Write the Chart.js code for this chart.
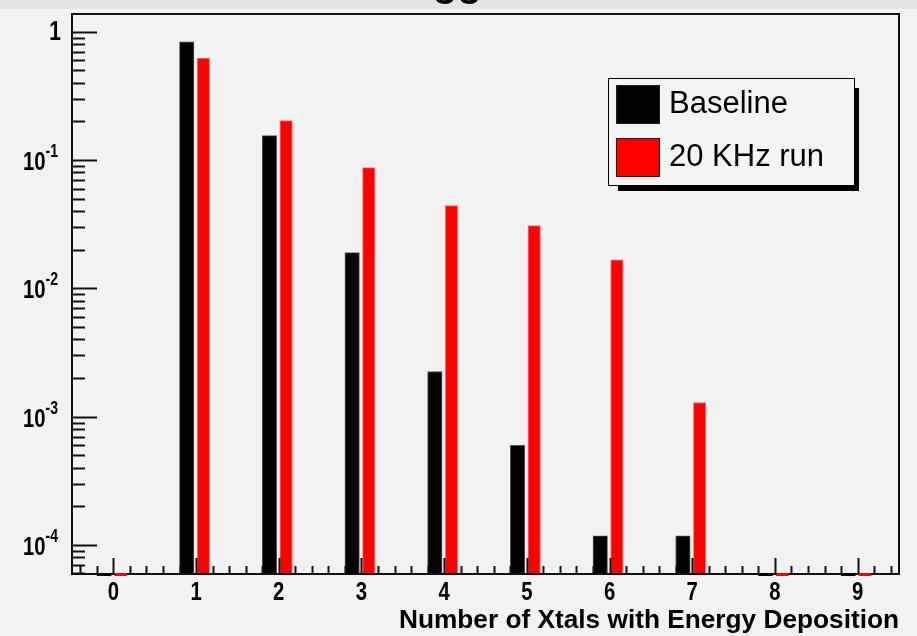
<!DOCTYPE html>
<html><head><meta charset="utf-8">
<script src="https://cdn.jsdelivr.net/npm/chart.js@4/dist/chart.umd.min.js"></script>
<style>html,body{margin:0;padding:0;background:#f2f2f2;overflow:hidden}#wrap{width:917px;height:636px;position:relative}</style>
</head><body><div id="wrap"><canvas id="c"></canvas></div>
<script>
// ---- data ----
const categories = [0, 1, 2, 3, 4, 5, 6, 7, 8, 9];
const baselineValues = [0, 0.836, 0.155, 0.0190, 0.00225, 0.000597, 0.000118, 0.000118, 0, 0];
const run20kValues = [0, 0.624, 0.203, 0.0873, 0.0441, 0.0308, 0.0167, 0.00129, 0, 0];
const seriesNames = ['Baseline', '20 KHz run'];
const xTickLabels = ['0', '1', '2', '3', '4', '5', '6', '7', '8', '9'];
const yDecadeExponents = [0, -1, -2, -3, -4];
const xAxisTitle = 'Number of Xtals with Energy Deposition';
const chartTitle = 'Trigger';

// ---- layout / style (not data) ----
const FONT = '"Liberation Sans", Arial, Helvetica, sans-serif';
const AX = { xmin: -0.5, xmax: 9.5, ymin: 5.94e-5, ymax: 1.375 };
const BLACK_OFF = -0.1125, RED_OFF = 0.089;
const LABEL_SX = 0.8;

function toXY(vals, off) {
  return categories.map((c, i) => ({ x: c + off, y: vals[i] }));
}

function squeezedText(ctx, txt, x, y, sx) {
  ctx.save();
  ctx.translate(x, y);
  ctx.scale(sx, 1);
  ctx.fillText(txt, 0, 0);
  ctx.restore();
}

const rootPlugin = {
  id: 'rootStyle',
  beforeDraw(chart) {
    const ctx = chart.ctx;
    ctx.save();
    ctx.fillStyle = '#f2f2f2';
    ctx.fillRect(0, 0, chart.width, chart.height);
    ctx.fillStyle = '#e4e4e4';
    ctx.fillRect(0, 0, chart.width, 9);
    ctx.fillStyle = '#000';
    ctx.font = 'bold 40px ' + FONT;
    ctx.textAlign = 'center';
    ctx.textBaseline = 'alphabetic';
    ctx.fillText(chartTitle, 452, -4);
    ctx.restore();
  },
  afterDatasetsDraw(chart) {
    const ctx = chart.ctx;
    const xs = chart.scales.x, ys = chart.scales.y;
    const a = chart.chartArea;
    ctx.save();
    // frame
    ctx.strokeStyle = '#111';
    ctx.lineWidth = 2;
    ctx.strokeRect(a.left, a.top, a.right - a.left, a.bottom - a.top);
    // zero-valued bins: ROOT draws them as a flat mark on the axis
    chart.data.datasets.forEach((ds, di) => {
      const meta = chart.getDatasetMeta(di);
      ds.data.forEach((d, i) => {
        if (d.y === 0) {
          const el = meta.data[i];
          ctx.fillStyle = ds.backgroundColor;
          ctx.fillRect(el.x - el.width / 2, a.bottom - 1, el.width, 3);
        }
      });
    });
    // x ticks
    ctx.strokeStyle = '#111';
    ctx.lineWidth = 2;
    ctx.beginPath();
    for (let k = -4; k <= 94; k += 2) {
      const val = k * 0.1;
      const px = Math.round(xs.getPixelForValue(val)) + 0.5;
      if (px <= a.left + 1 || px >= a.right - 1) continue;
      const major = (k % 10 === 0);
      const len = major ? 16 : 8;
      ctx.moveTo(px, a.bottom);
      ctx.lineTo(px, a.bottom - len);
    }
    ctx.stroke();
    // y ticks
    ctx.beginPath();
    for (let e = 0; e >= -5; e--) {
      for (let m = 1; m <= 9; m++) {
        const val = m * Math.pow(10, e);
        if (val < AX.ymin || val > AX.ymax) continue;
        const py = Math.round(ys.getPixelForValue(val)) + 0.5;
        const len = m === 1 ? 25 : 13;
        ctx.moveTo(a.left, py);
        ctx.lineTo(a.left + len, py);
      }
    }
    ctx.stroke();
    // x labels
    ctx.fillStyle = '#000';
    ctx.font = 'bold 26px ' + FONT;
    ctx.textAlign = 'center';
    ctx.textBaseline = 'middle';
    categories.forEach((c, i) => {
      squeezedText(ctx, xTickLabels[i], xs.getPixelForValue(c), 593, 0.78);
    });
    // y labels
    yDecadeExponents.forEach(e => {
      const py = ys.getPixelForValue(Math.pow(10, e));
      if (e === 0) {
        ctx.font = 'bold 27px ' + FONT;
        ctx.textAlign = 'right';
        ctx.textBaseline = 'middle';
        squeezedText(ctx, '1', 61, py + 1, 0.78);
      } else {
        ctx.font = 'bold 18px ' + FONT;
        const expStr = '-' + Math.abs(e);
        const we = ctx.measureText(expStr).width * 0.78;
        ctx.textAlign = 'right';
        ctx.textBaseline = 'alphabetic';
        squeezedText(ctx, expStr, 58, py - 3, 0.78);
        ctx.font = 'bold 26px ' + FONT;
        squeezedText(ctx, '10', 58 - we, py + 10, 0.78);
      }
    });
    // axis title
    ctx.font = 'bold 25px ' + FONT;
    ctx.textAlign = 'right';
    ctx.textBaseline = 'middle';
    const tw = ctx.measureText(xAxisTitle).width;
    squeezedText(ctx, xAxisTitle, a.right, 621, 500 / tw);
    // legend
    ctx.fillStyle = '#000';
    ctx.fillRect(618, 88, 241, 103);
    ctx.fillStyle = '#f4f4f4';
    ctx.fillRect(608.5, 78.5, 246, 107);
    ctx.lineWidth = 1;
    ctx.strokeStyle = '#000';
    ctx.strokeRect(608.5, 78.5, 246, 107);
    const rows = [104, 157];
    chart.data.datasets.forEach((ds, di) => {
      const cy = rows[di];
      ctx.fillStyle = ds.backgroundColor;
      ctx.fillRect(616, cy - 19, 44, 39);
      ctx.strokeStyle = '#222';
      ctx.strokeRect(616.5, cy - 18.5, 43, 38);
      ctx.fillStyle = '#000';
      ctx.font = '31px ' + FONT;
      ctx.textAlign = 'left';
      ctx.textBaseline = 'middle';
      ctx.fillText(ds.label, 669, cy);
    });
    ctx.restore();
  }
};

new Chart(document.getElementById('c'), {
  type: 'bar',
  data: {
    datasets: [
      { label: seriesNames[0], data: toXY(baselineValues, BLACK_OFF), backgroundColor: '#000000',
        borderColor: '#555555', borderWidth: 1, barThickness: 14.5, grouped: false, borderSkipped: 'bottom' },
      { label: seriesNames[1], data: toXY(run20kValues, RED_OFF), backgroundColor: '#ff0000',
        borderColor: '#ff7070', borderWidth: 1, barThickness: 12.4, grouped: false, borderSkipped: 'bottom' }
    ]
  },
  options: {
    responsive: true,
    maintainAspectRatio: false,
    devicePixelRatio: 1,
    animation: false,
    layout: { padding: { left: 72, top: 14, right: 18, bottom: 62 } },
    plugins: { legend: { display: false }, tooltip: { enabled: false }, title: { display: false } },
    scales: {
      x: { type: 'linear', min: AX.xmin, max: AX.xmax, display: false, offset: false },
      y: { type: 'logarithmic', min: AX.ymin, max: AX.ymax, display: false }
    }
  },
  plugins: [rootPlugin]
});
</script>
</body></html>
